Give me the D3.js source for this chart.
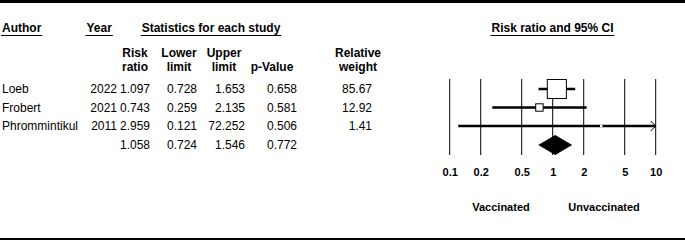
<!DOCTYPE html>
<html>
<head>
<meta charset="utf-8">
<script src="https://cdn.jsdelivr.net/npm/d3@7"></script>
<style>
    body { margin: 0; background: #fff; }
    svg { display: block; font-family: Arial, "Liberation Sans", sans-serif; }
    text { fill: #000; }
    .bold { font-weight: bold; }
</style>
</head>
<body>
<div id="chart"></div>
<script>
// study data
const authors = ["Loeb", "Frobert", "Phrommintikul"];
const years = [2022, 2021, 2011];
const riskRatio = [1.097, 0.743, 2.959];
const lowerLimit = [0.728, 0.259, 0.121];
const upperLimit = [1.653, 2.135, 72.252];
const pValue = [0.658, 0.581, 0.506];
const relWeight = [85.67, 12.92, 1.41];

// pooled estimate: risk ratio, lower, upper, p
const summaryStats = [1.058, 0.724, 1.546, 0.772];

const tickValues = [0.1, 0.2, 0.5, 1, 2, 5, 10];
const tickLabels = ["0.1", "0.2", "0.5", "1", "2", "5", "10"];

const width = 685, height = 242;

const svg = d3.select("#chart")
    .append("svg")
    .attr("width", width)
    .attr("height", height);

// row positions (3 studies + summary)
const y = d3.scalePoint()
    .domain(d3.range(4))
    .range([89, 144.5]);

// log scale for risk ratio
const x = d3.scaleLog()
    .domain([0.1, 10])
    .range([449.7, 655.7]);

// top and bottom rules
svg.append("line")
    .attr("x1", 0).attr("x2", width)
    .attr("y1", 1.5).attr("y2", 1.5)
    .attr("stroke", "#000").attr("stroke-width", 3);
svg.append("line")
    .attr("x1", 0).attr("x2", width)
    .attr("y1", 239).attr("y2", 239)
    .attr("stroke", "#000").attr("stroke-width", 2);

// underlined group titles
function title(txt, xPos, anchor) {
    const t = svg.append("text")
        .attr("class", "bold")
        .attr("x", xPos).attr("y", 32)
        .attr("text-anchor", anchor)
        .style("font-size", "12px")
        .text(txt);
    const w = t.node().getComputedTextLength();
    const x0 = anchor === "middle" ? xPos - w / 2 : xPos;
    svg.append("line")
        .attr("x1", x0 - 1).attr("x2", x0 + w + 1)
        .attr("y1", 35.5).attr("y2", 35.5)
        .attr("stroke", "#000").attr("stroke-width", 1);
}
title("Author", 2, "start");
title("Year", 86.5, "start");
title("Statistics for each study", 211, "middle");
title("Risk ratio and 95% CI", 552.5, "middle");

// two-line column headers
const headers = [
    { lines: ["Risk", "ratio"], cx: 135 },
    { lines: ["Lower", "limit"], cx: 179 },
    { lines: ["Upper", "limit"], cx: 224 },
    { lines: ["", "p-Value"], cx: 272 },
    { lines: ["Relative", "weight"], cx: 358 }
];
headers.forEach(h => {
    h.lines.forEach((l, i) => {
        svg.append("text")
            .attr("class", "bold")
            .attr("x", h.cx).attr("y", 53 + i * 14)
            .attr("dy", "0.35em")
            .attr("text-anchor", "middle")
            .style("font-size", "12px")
            .text(l);
    });
});

// table body
const rows = authors.map((a, i) => ({
    author: a, year: years[i], rr: riskRatio[i], lo: lowerLimit[i],
    hi: upperLimit[i], p: pValue[i], w: relWeight[i]
}));

const colRight = { year: 117, rr: 150, lo: 197, hi: 245, p: 297, w: 372 };
const fmt3 = d3.format(".3f");

const cellText = (xPos, yPos, txt, anchor) => svg.append("text")
    .attr("x", xPos).attr("y", yPos)
    .attr("dy", "0.35em")
    .attr("text-anchor", anchor)
    .style("font-size", "12px")
    .text(txt);

rows.forEach((d, i) => {
    const yy = y(i);
    cellText(2, yy, d.author, "start");
    cellText(colRight.year, yy, d.year, "end");
    cellText(colRight.rr, yy, fmt3(d.rr), "end");
    cellText(colRight.lo, yy, fmt3(d.lo), "end");
    cellText(colRight.hi, yy, fmt3(d.hi), "end");
    cellText(colRight.p, yy, fmt3(d.p), "end");
    cellText(colRight.w, yy, d.w.toFixed(2), "end");
});
["rr", "lo", "hi", "p"].forEach((k, j) => {
    cellText(colRight[k], y(3), fmt3(summaryStats[j]), "end");
});

// vertical reference lines at each tick
svg.selectAll(".grid")
    .data(tickValues)
    .enter()
    .append("line")
    .attr("class", "grid")
    .attr("x1", d => x(d)).attr("x2", d => x(d))
    .attr("y1", 79).attr("y2", 155)
    .attr("stroke", "#000").attr("stroke-width", 1);

// confidence intervals (clipped at axis end)
svg.selectAll(".ci")
    .data(rows)
    .enter()
    .append("line")
    .attr("class", "ci")
    .attr("x1", d => x(Math.max(d.lo, 0.1)))
    .attr("x2", d => x(Math.min(d.hi, 10)))
    .attr("y1", (d, i) => y(i)).attr("y2", (d, i) => y(i))
    .attr("stroke", "#000").attr("stroke-width", 2.6);

// arrow for intervals that run past 10
rows.forEach((d, i) => {
    if (d.hi > 10) {
        const ax = x(10), ay = y(i);
        svg.append("path")
            .attr("d", `M${ax - 5},${ay - 5}L${ax},${ay}L${ax - 5},${ay + 5}`)
            .attr("fill", "none")
            .attr("stroke", "#000").attr("stroke-width", 1);
    }
});

// weighted boxes
svg.selectAll(".box")
    .data(rows)
    .enter()
    .append("rect")
    .attr("class", "box")
    .attr("x", d => x(d.rr) - 1.03 * Math.sqrt(d.w))
    .attr("y", (d, i) => y(i) - 1.03 * Math.sqrt(d.w))
    .attr("width", d => 2.06 * Math.sqrt(d.w))
    .attr("height", d => 2.06 * Math.sqrt(d.w))
    .attr("fill", "#fff")
    .attr("stroke", "#000")
    .attr("stroke-width", d => d.w < 5 ? 0 : 1);

// summary diamond
const sy = y(3) + 0.5;
svg.append("path")
    .attr("d", `M${x(summaryStats[1])},${sy}L${x(summaryStats[0])},${sy - 10}` +
        `L${x(summaryStats[2])},${sy}L${x(summaryStats[0])},${sy + 10}Z`)
    .attr("fill", "#000");

// axis labels
const axis = svg.append("g")
    .attr("transform", "translate(0,160)")
    .call(d3.axisBottom(x)
        .tickValues(tickValues)
        .tickFormat((d, i) => tickLabels[i])
        .tickSize(0)
        .tickPadding(8));
axis.select(".domain").remove();
axis.selectAll("text")
    .attr("class", "bold")
    .style("font-family", "Arial, 'Liberation Sans', sans-serif")
    .style("font-size", "11px")
    .attr("fill", "#000");

// direction labels
svg.append("text").attr("class", "bold")
    .attr("x", 501).attr("y", 207).attr("dy", "0.35em")
    .attr("text-anchor", "middle").style("font-size", "11px")
    .text("Vaccinated");
svg.append("text").attr("class", "bold")
    .attr("x", 604).attr("y", 207).attr("dy", "0.35em")
    .attr("text-anchor", "middle").style("font-size", "11px")
    .text("Unvaccinated");
</script>
</body>
</html>
